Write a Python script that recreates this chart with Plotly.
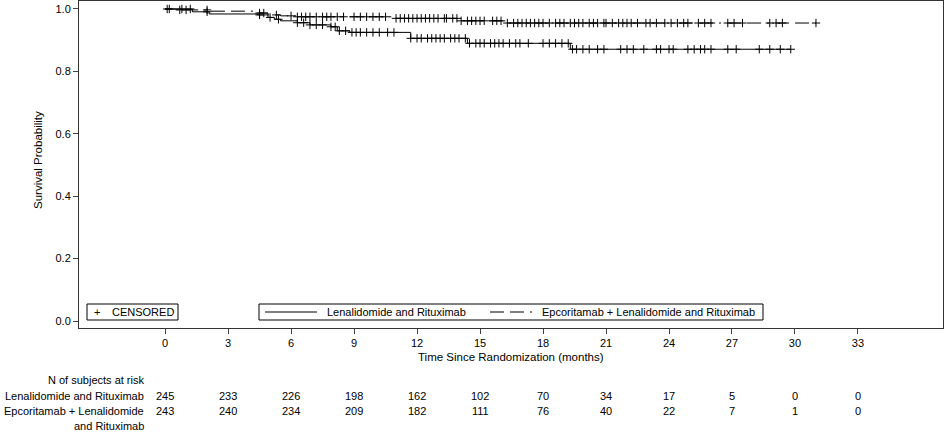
import plotly.graph_objects as go

# ---- data ----
arm_names = ["Lenalidomide and Rituximab",
             "Epcoritamab + Lenalidomide and Rituximab"]

# Kaplan-Meier step points (month, survival)
lr_time = [0, 1.3, 2.1, 4.4, 4.9, 5.2, 5.5, 6.3, 6.9, 7.9, 8.2, 8.8, 11.7, 14.4, 19.3, 29.8]
lr_surv = [1.0, 0.991, 0.984, 0.981, 0.973, 0.967, 0.962, 0.956, 0.949, 0.943, 0.930, 0.925,
           0.906, 0.890, 0.871, 0.871]
ep_time = [0, 0.6, 2.1, 4.2, 4.9, 5.5, 6.3, 10.9, 14.0, 16.3, 31.0]
ep_surv = [1.0, 0.997, 0.993, 0.987, 0.981, 0.978, 0.975, 0.970, 0.962, 0.955, 0.955]

# censored times
lr_cens = [0.1, 0.8, 1.2, 2.0, 4.5, 5.0, 5.4, 6.3, 6.6, 6.9, 7.2, 7.5, 7.9, 8.1, 8.3, 8.6,
           8.9, 9.1, 9.3, 9.6, 9.9, 10.2, 10.6, 10.9, 11.7, 12.0, 12.2, 12.5, 12.7, 12.9,
           13.1, 13.3, 13.6, 13.8, 14.0, 14.3, 14.5, 14.8, 15.0, 15.2, 15.5, 15.7, 15.9,
           16.1, 16.4, 16.7, 16.9, 17.3, 18.0, 18.3, 18.6, 18.9, 19.2, 19.4, 19.6, 19.9,
           20.2, 20.6, 20.9, 21.7, 22.0, 22.3, 22.8, 23.4, 23.6, 24.0, 24.2, 24.9, 25.2,
           25.5, 25.7, 26.0, 26.8, 27.2, 28.3, 28.8, 29.3, 29.8]
ep_cens = [0.2, 0.7, 1.0, 2.0, 4.5, 4.7, 5.3, 6.0, 6.3, 6.5, 6.7, 6.9, 7.2, 7.5, 7.7, 7.9,
           8.2, 8.5, 9.0, 9.3, 9.6, 9.9, 10.2, 10.5, 11.0, 11.2, 11.4, 11.6, 11.8, 12.0,
           12.2, 12.4, 12.6, 12.8, 13.0, 13.3, 13.4, 13.7, 13.9, 14.1, 14.4, 14.6, 14.8,
           15.0, 15.2, 15.6, 15.8, 16.0, 16.3, 16.6, 16.8, 17.0, 17.2, 17.4, 17.6, 17.8,
           18.0, 18.3, 18.6, 18.8, 19.0, 19.3, 19.5, 19.7, 19.9, 20.2, 20.4, 20.6, 20.9,
           21.0, 21.3, 21.6, 21.8, 22.0, 22.2, 22.5, 22.9, 23.1, 23.4, 23.8, 24.1, 24.4,
           24.7, 24.9, 25.4, 25.7, 26.0, 26.8, 27.1, 27.5, 28.8, 29.1, 29.4, 31.0]

risk_months = [0, 3, 6, 9, 12, 15, 18, 21, 24, 27, 30, 33]
lr_risk = [245, 233, 226, 198, 162, 102, 70, 34, 17, 5, 0, 0]
ep_risk = [243, 240, 234, 209, 182, 111, 76, 40, 22, 7, 1, 0]

FONT = "Liberation Sans, Arial, sans-serif"
W, H = 945, 435
ML, MR, MT, MB = 79, 2, 1, 107
PW, PH = W - ML - MR, H - MT - MB
EP_DASH = "14px,6px,14px,6px,2px,6px"


def surv_at(times, surv, t):
    s = surv[0]
    for tt, ss in zip(times, surv):
        if tt <= t:
            s = ss
    return s


def px_y(y):   # pixel row -> paper y
    return (H - MB - y) / PH


def px_x(x):   # pixel column -> paper x
    return (x - ML) / PW


fig = go.Figure()

# curves
fig.add_trace(go.Scatter(x=lr_time, y=lr_surv, mode="lines", line_shape="hv",
                         line=dict(color="black", width=1), name=arm_names[0]))
fig.add_trace(go.Scatter(x=ep_time, y=ep_surv, mode="lines", line_shape="hv",
                         line=dict(color="black", width=1, dash=EP_DASH),
                         name=arm_names[1]))

# censor marks
cens_marker = dict(symbol="cross-thin", size=6, color="black",
                   line=dict(color="black", width=1))
fig.add_trace(go.Scatter(x=lr_cens, y=[surv_at(lr_time, lr_surv, t) for t in lr_cens],
                         mode="markers", marker=cens_marker, name="CENSORED"))
fig.add_trace(go.Scatter(x=ep_cens, y=[surv_at(ep_time, ep_surv, t) for t in ep_cens],
                         mode="markers", marker=cens_marker, name="CENSORED"))


def txt(x, y, s, xanchor="center", size=11, **kw):
    return dict(x=x, y=y, xref="paper", yref="paper", text=s, showarrow=False,
                xanchor=xanchor, yanchor="middle", font=dict(size=size), **kw)


ann = []
# axis titles
ann.append(txt(0.5, px_y(357), "Time Since Randomization (months)", size=11.5))
ann.append(txt(px_x(38), px_y(160), "Survival Probability", size=11.5, textangle=-90))

# risk table
ann.append(txt(px_x(146), px_y(380), "N of subjects at risk", "right"))
ann.append(txt(px_x(146), px_y(396), "Lenalidomide and Rituximab", "right"))
ann.append(txt(px_x(146), px_y(411), "Epcoritamab + Lenalidomide", "right"))
ann.append(txt(px_x(146), px_y(426), "and Rituximab", "right"))
for m, a, b in zip(risk_months, lr_risk, ep_risk):
    for val, row_y in ((a, 396), (b, 411)):
        ann.append(dict(x=m, y=px_y(row_y), xref="x", yref="paper", text=str(val),
                        showarrow=False, xanchor="center", yanchor="middle",
                        font=dict(size=11)))

# legend boxes drawn inside the plot area
ann.append(txt(px_x(97), px_y(312), "+"))
ann.append(txt(px_x(110), px_y(312), "CENSORED", "left"))
ann.append(txt(px_x(325), px_y(312), arm_names[0], "left"))
ann.append(txt(px_x(540), px_y(312), arm_names[1], "left"))

shapes = [
    dict(type="rect", xref="paper", yref="paper", x0=px_x(87), x1=px_x(178),
         y0=px_y(320), y1=px_y(304), line=dict(color="black", width=1)),
    dict(type="rect", xref="paper", yref="paper", x0=px_x(259), x1=px_x(763),
         y0=px_y(320), y1=px_y(304), line=dict(color="black", width=1)),
    dict(type="line", xref="paper", yref="paper", x0=px_x(265), x1=px_x(317),
         y0=px_y(312), y1=px_y(312), line=dict(color="black", width=1)),
    dict(type="line", xref="paper", yref="paper", x0=px_x(490), x1=px_x(534),
         y0=px_y(312), y1=px_y(312), line=dict(color="black", width=1, dash=EP_DASH)),
]

fig.update_layout(
    width=W, height=H,
    margin=dict(l=ML, r=MR, t=MT, b=MB),
    paper_bgcolor="white", plot_bgcolor="white",
    font=dict(family=FONT, size=11, color="black"),
    annotations=ann,
    shapes=shapes,
    showlegend=False,
)

fig.update_xaxes(range=[-4.1, 37.05], tickvals=risk_months, ticks="outside", ticklen=5,
                 showline=True, linecolor="#333", linewidth=1, mirror=True,
                 showgrid=False, zeroline=False, tickfont=dict(size=11))
fig.update_yaxes(range=[-0.0224, 1.0256], tickvals=[0, 0.2, 0.4, 0.6, 0.8, 1.0],
                 tickformat=".1f", ticks="outside", ticklen=5,
                 showline=True, linecolor="#333", linewidth=1, mirror=True,
                 showgrid=False, zeroline=False, tickfont=dict(size=11))

fig.write_html("out.html", config={"displayModeBar": False},
               post_script="document.body.style.margin='0';")
